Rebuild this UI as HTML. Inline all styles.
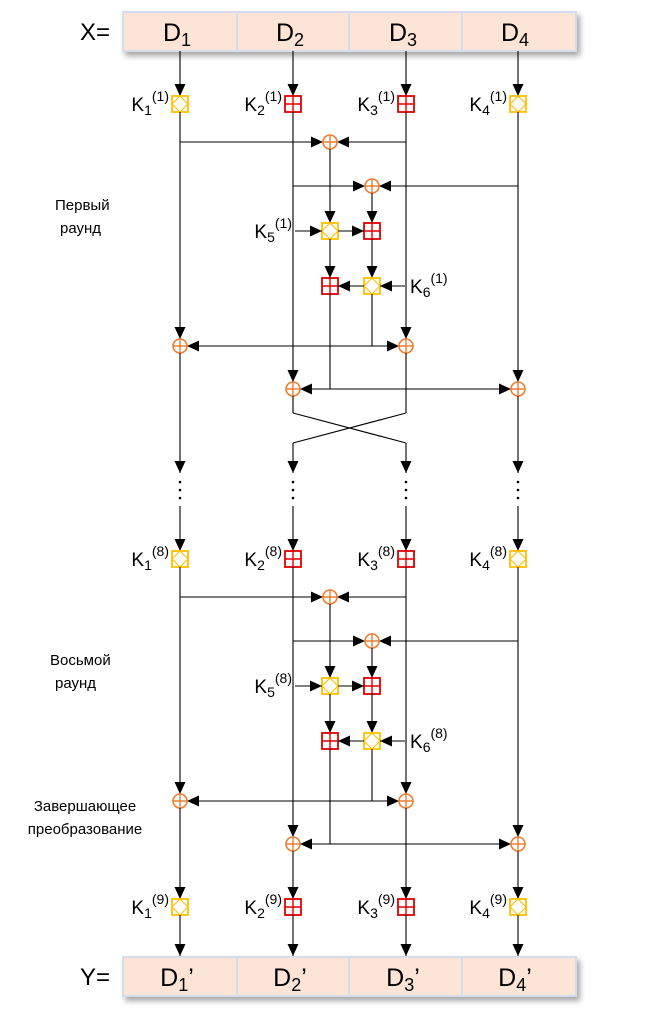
<!DOCTYPE html>
<html><head><meta charset="utf-8"><style>
html,body{margin:0;padding:0;background:#fff;}
svg{display:block;font-family:"Liberation Sans",sans-serif;}
</style></head><body>
<svg id="s" width="651" height="1014" viewBox="0 0 651 1014" xmlns="http://www.w3.org/2000/svg">
<defs>
<filter id="sh" x="-5%" y="-20%" width="110%" height="160%"><feDropShadow dx="3" dy="4" stdDeviation="3" flood-color="#000" flood-opacity="0.35"/></filter>
</defs>
</svg>
<script>
const cols=[180,293,406,518];
const ix=[330,372];
const colTypes=['mul','add','add','mul'];
const roundOffsets=[0,455];
const roundLabels=[['Первый','раунд'],['Восьмой','раунд']];
const roundNums=['1','8'];
const NS='http://www.w3.org/2000/svg';
const svg=document.getElementById('s');
function mk(tag,attrs,name,parent){
  const el=document.createElementNS(NS,tag);
  for(const k in attrs) el.setAttribute(k,attrs[k]);
  
  
  (parent||svg).appendChild(el);return el;
}
function line(x1,y1,x2,y2,name){return mk('line',{x1,y1,x2,y2,stroke:'#000','stroke-width':1.1},name||'connector-line');}
function head(x,y,dir,name){
  let p;
  if(dir==='d')p=`${x},${y} ${x-5.5},${y-12} ${x+5.5},${y-12}`;
  if(dir==='r')p=`${x},${y} ${x-12},${y-5.5} ${x-12},${y+5.5}`;
  if(dir==='l')p=`${x},${y} ${x+12},${y-5.5} ${x+12},${y+5.5}`;
  return mk('polygon',{points:p,fill:'#000'},name||'arrow-head');
}
function arrow(x1,y1,x2,y2,dir,name){line(x1,y1,x2,y2,name);head(x2,y2,dir,name+'-head');}
function xor(x,y,name){
  const g=mk('g',{},name);
  mk('circle',{cx:x,cy:y,r:7,fill:'#fff',stroke:'#ED7D31','stroke-width':1.6},'xor-circle',g);
  mk('path',{d:`M${x-7} ${y}H${x+7}M${x} ${y-7}V${y+7}`,stroke:'#ED7D31','stroke-width':1.4,fill:'none'},'xor-plus',g);
}
function op(type,x,y,name){
  const g=mk('g',{},name);
  if(type==='mul'){
    mk('rect',{x:x-8,y:y-8,width:16,height:16,fill:'#fff',stroke:'#FFC000','stroke-width':1.8},'mul-box',g);
    mk('path',{d:`M${x} ${y-8}L${x+8} ${y}L${x} ${y+8}L${x-8} ${y}Z`,fill:'none',stroke:'#FFC000','stroke-width':1.1},'mul-diamond',g);
  }else{
    mk('rect',{x:x-8,y:y-8,width:16,height:16,fill:'#fff',stroke:'#E00000','stroke-width':1.8},'add-box',g);
    mk('path',{d:`M${x} ${y-8}V${y+8}M${x-8} ${y}H${x+8}`,stroke:'#E00000','stroke-width':1.4},'add-cross',g);
  }
}
function klabel(xEnd,y,sub,sup,name){
  const t=mk('text',{x:xEnd,y:y+7,'text-anchor':'end','font-size':19,fill:'#000'},name);
  const a=document.createElementNS(NS,'tspan');a.textContent='K';t.appendChild(a);
  const b=document.createElementNS(NS,'tspan');b.setAttribute('font-size','14');b.setAttribute('dy','4');b.textContent=sub;t.appendChild(b);
  const c=document.createElementNS(NS,'tspan');c.setAttribute('font-size','14');c.setAttribute('dy','-14');c.textContent='('+sup+')';t.appendChild(c);
}
function text(x,y,s,size,anchor,name){const t=mk('text',{x,y,'font-size':size,'text-anchor':anchor||'start',fill:'#000'},name);t.textContent=s;return t;}
function databox(y,label,prime,name){
  const g=mk('g',{},name);
  mk('rect',{x:123,y:y,width:453,height:39,fill:'#FCE4D6',stroke:'#D6DCEB','stroke-width':2,filter:'url(#sh)'},'data-box-bg',g);
  [237,349,462].forEach(x=>mk('line',{x1:x,y1:y,x2:x,y2:y+39,stroke:'#D6DCEB','stroke-width':2},'data-box-divider',g));
  text(80,y+28,label,24,'start',name+'-label');
  cols.forEach((x,i)=>{
    const t=mk('text',{x:x-3,y:y+29,'font-size':25,'text-anchor':'middle',fill:'#000'},'data-cell-'+(i+1));
    const a=document.createElementNS(NS,'tspan');a.textContent='D';t.appendChild(a);
    const b=document.createElementNS(NS,'tspan');b.setAttribute('font-size','18');b.setAttribute('dy','5');b.textContent=(i+1);t.appendChild(b);
    if(prime){const c=document.createElementNS(NS,'tspan');c.setAttribute('dy','-5');c.textContent='\u2019';t.appendChild(c);}
  });
}
databox(12,'X=',false,'input-block');
databox(957,'Y=',true,'output-block');

function keyRow(y,sup,startY,tag){
  cols.forEach((x,i)=>{
    arrow(x,startY,x,y-8,'d','key-arrow-'+tag+'-'+(i+1));
    op(colTypes[i],x,y,'key-op-'+tag+'-'+(i+1));
    klabel(x-11,y,String(i+1),sup,'key-label-'+tag+'-'+(i+1));
  });
}
roundOffsets.forEach((o,r)=>{
  const tag='r'+roundNums[r];
  const ky=104+o;
  keyRow(ky,roundNums[r],r===0?51:506,tag);
  const yA=142+o,yB=186+o,yM=231+o,yN=286+o,yC=346+o,yD=389+o;
  line(cols[0],ky+8,cols[0],yC-7,'col1-line');head(cols[0],yC-7,'d');
  line(cols[2],ky+8,cols[2],yC-7,'col3-line');head(cols[2],yC-7,'d');
  line(cols[1],ky+8,cols[1],yD-7,'col2-line');head(cols[1],yD-7,'d');
  line(cols[3],ky+8,cols[3],yD-7,'col4-line');head(cols[3],yD-7,'d');
  arrow(cols[0],yA,ix[0]-7,yA,'r','xor-a-in-left');arrow(cols[2],yA,ix[0]+7,yA,'l','xor-a-in-right');
  xor(ix[0],yA,'xor-a-'+tag);
  arrow(cols[1],yB,ix[1]-7,yB,'r','xor-b-in-left');arrow(cols[3],yB,ix[1]+7,yB,'l','xor-b-in-right');
  xor(ix[1],yB,'xor-b-'+tag);
  arrow(ix[0],yA+7,ix[0],yM-8,'d','xor-a-out');arrow(ix[1],yB+7,ix[1],yM-8,'d','xor-b-out');
  op('mul',ix[0],yM,'mul-k5-'+tag);op('add',ix[1],yM,'add-mid-'+tag);
  arrow(ix[0]+8,yM,ix[1]-8,yM,'r','mul-to-add');
  arrow(ix[0]-35,yM,ix[0]-8,yM,'r','k5-arrow');
  klabel(ix[0]-38,yM,'5',roundNums[r],'k5-label-'+tag);
  arrow(ix[0],yM+8,ix[0],yN-8,'d','mul-down');arrow(ix[1],yM+8,ix[1],yN-8,'d','add-down');
  op('add',ix[0],yN,'add-k6-'+tag);op('mul',ix[1],yN,'mul-k6-'+tag);
  arrow(ix[1]-8,yN,ix[0]+8,yN,'l','mul6-to-add');
  arrow(ix[1]+33,yN,ix[1]+8,yN,'l','k6-arrow');
  const kt=mk('text',{x:ix[1]+38,y:yN+7,'font-size':19,fill:'#000'},'k6-label-'+tag);
  kt.innerHTML='K<tspan font-size="14" dy="4">6</tspan><tspan font-size="14" dy="-14">('+roundNums[r]+')</tspan>';
  line(ix[1],yN+8,ix[1],yC,'mul6-out');
  line(cols[0]+7,yC,cols[2]-7,yC,'xor-c-bus');head(cols[0]+7,yC,'l');head(cols[2]-7,yC,'r');
  line(ix[0],yN+8,ix[0],yD,'add6-out');
  line(cols[1]+7,yD,cols[3]-7,yD,'xor-d-bus');head(cols[1]+7,yD,'l');head(cols[3]-7,yD,'r');
  xor(cols[0],yC,'xor-c1-'+tag);xor(cols[2],yC,'xor-c3-'+tag);
  xor(cols[1],yD,'xor-d2-'+tag);xor(cols[3],yD,'xor-d4-'+tag);
  text(r===0?55:50,(r===0?210:665),roundLabels[r][0],15,'start','round-label-'+tag);
  text(r===0?60:55,(r===0?233:688),roundLabels[r][1],15,'start','round-label2-'+tag);
});
line(cols[0],353,cols[0],473,'c1-down');head(cols[0],473,'d');
line(cols[2],353,cols[2],413,'c3-down');line(cols[2],413,cols[1],443,'cross-3-2');
line(cols[1],396,cols[1],413,'c2-down');line(cols[1],413,cols[2],443,'cross-2-3');
line(cols[1],443,cols[1],473);head(cols[1],473,'d');
line(cols[2],443,cols[2],473);head(cols[2],473,'d');
line(cols[3],396,cols[3],473,'c4-down');head(cols[3],473,'d');
cols.forEach((x,i)=>{[482,490,498].forEach(y=>mk('circle',{cx:x,cy:y,r:1.3,fill:'#000'},'ellipsis-dot'));});
text(85,811,'Завершающее',15,'middle','final-label');
text(85,834,'преобразование',15,'middle','final-label2');
line(cols[0],808,cols[0],899);line(cols[2],808,cols[2],899);
line(cols[1],851,cols[1],899);line(cols[3],851,cols[3],899);
cols.forEach((x,i)=>{
  head(x,899,'d','final-key-arrow');
  op(colTypes[i],x,907,'final-key-op-'+(i+1));
  klabel(x-11,907,String(i+1),'9','final-key-label-'+(i+1));
  arrow(x,915,x,956,'d','output-arrow-'+(i+1));
});
</script>
</body></html>
